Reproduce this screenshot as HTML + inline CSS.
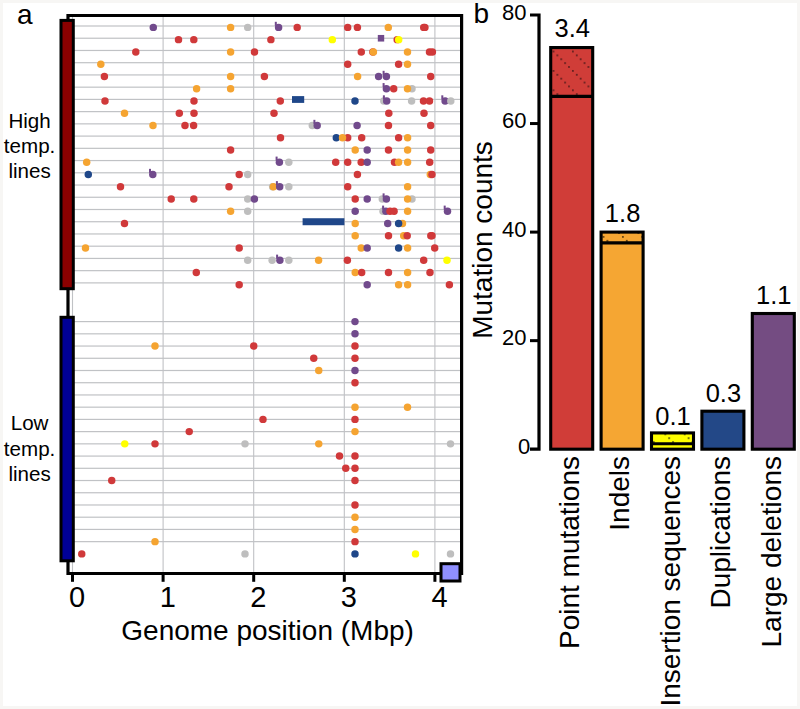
<!DOCTYPE html><html><head><meta charset="utf-8"><style>html,body{margin:0;padding:0;background:#f7f6f4;}svg{display:block;}text{font-family:"Liberation Sans",sans-serif;fill:#000;}</style></head><body>
<svg width="800" height="709" viewBox="0 0 800 709">
<defs>
<pattern id="hr" patternUnits="userSpaceOnUse" x="551.6" y="49.6" width="19.4" height="19.4"><circle cx="1.90" cy="1.90" r="0.85" fill="#3a1414"/><circle cx="5.78" cy="5.78" r="0.85" fill="#3a1414"/><circle cx="9.66" cy="9.66" r="0.85" fill="#3a1414"/><circle cx="13.54" cy="13.54" r="0.85" fill="#3a1414"/><circle cx="17.42" cy="17.42" r="0.85" fill="#3a1414"/></pattern>
<pattern id="ho" patternUnits="userSpaceOnUse" x="601.6" y="235" width="19.4" height="19.4"><circle cx="1.90" cy="1.90" r="0.85" fill="#2a1a00"/><circle cx="5.78" cy="5.78" r="0.85" fill="#2a1a00"/><circle cx="9.66" cy="9.66" r="0.85" fill="#2a1a00"/><circle cx="13.54" cy="13.54" r="0.85" fill="#2a1a00"/><circle cx="17.42" cy="17.42" r="0.85" fill="#2a1a00"/></pattern>
<pattern id="hy" patternUnits="userSpaceOnUse" x="667.3" y="436.3" width="19.4" height="19.4"><circle cx="1.90" cy="1.90" r="0.85" fill="#222"/><circle cx="5.78" cy="5.78" r="0.85" fill="#222"/><circle cx="9.66" cy="9.66" r="0.85" fill="#222"/><circle cx="13.54" cy="13.54" r="0.85" fill="#222"/><circle cx="17.42" cy="17.42" r="0.85" fill="#222"/></pattern>
</defs>
<rect x="3" y="3" width="794" height="703" fill="#fff"/>
<text x="17" y="23.7" font-size="28">a</text>
<rect x="69.5" y="25.40" width="391" height="1.2" fill="#c0c2c5"/>
<rect x="69.5" y="37.63" width="391" height="1.2" fill="#c0c2c5"/>
<rect x="69.5" y="49.87" width="391" height="1.2" fill="#c0c2c5"/>
<rect x="69.5" y="62.10" width="391" height="1.2" fill="#c0c2c5"/>
<rect x="69.5" y="74.33" width="391" height="1.2" fill="#c0c2c5"/>
<rect x="69.5" y="86.57" width="391" height="1.2" fill="#c0c2c5"/>
<rect x="69.5" y="98.80" width="391" height="1.2" fill="#c0c2c5"/>
<rect x="69.5" y="111.03" width="391" height="1.2" fill="#c0c2c5"/>
<rect x="69.5" y="123.26" width="391" height="1.2" fill="#c0c2c5"/>
<rect x="69.5" y="135.50" width="391" height="1.2" fill="#c0c2c5"/>
<rect x="69.5" y="147.73" width="391" height="1.2" fill="#c0c2c5"/>
<rect x="69.5" y="159.96" width="391" height="1.2" fill="#c0c2c5"/>
<rect x="69.5" y="172.20" width="391" height="1.2" fill="#c0c2c5"/>
<rect x="69.5" y="184.43" width="391" height="1.2" fill="#c0c2c5"/>
<rect x="69.5" y="196.66" width="391" height="1.2" fill="#c0c2c5"/>
<rect x="69.5" y="208.90" width="391" height="1.2" fill="#c0c2c5"/>
<rect x="69.5" y="221.13" width="391" height="1.2" fill="#c0c2c5"/>
<rect x="69.5" y="233.36" width="391" height="1.2" fill="#c0c2c5"/>
<rect x="69.5" y="245.59" width="391" height="1.2" fill="#c0c2c5"/>
<rect x="69.5" y="257.83" width="391" height="1.2" fill="#c0c2c5"/>
<rect x="69.5" y="270.06" width="391" height="1.2" fill="#c0c2c5"/>
<rect x="69.5" y="282.29" width="391" height="1.2" fill="#c0c2c5"/>
<rect x="69.5" y="321.00" width="391" height="1.2" fill="#c0c2c5"/>
<rect x="69.5" y="333.23" width="391" height="1.2" fill="#c0c2c5"/>
<rect x="69.5" y="345.45" width="391" height="1.2" fill="#c0c2c5"/>
<rect x="69.5" y="357.68" width="391" height="1.2" fill="#c0c2c5"/>
<rect x="69.5" y="369.90" width="391" height="1.2" fill="#c0c2c5"/>
<rect x="69.5" y="382.12" width="391" height="1.2" fill="#c0c2c5"/>
<rect x="69.5" y="394.35" width="391" height="1.2" fill="#c0c2c5"/>
<rect x="69.5" y="406.57" width="391" height="1.2" fill="#c0c2c5"/>
<rect x="69.5" y="418.80" width="391" height="1.2" fill="#c0c2c5"/>
<rect x="69.5" y="431.02" width="391" height="1.2" fill="#c0c2c5"/>
<rect x="69.5" y="443.25" width="391" height="1.2" fill="#c0c2c5"/>
<rect x="69.5" y="455.48" width="391" height="1.2" fill="#c0c2c5"/>
<rect x="69.5" y="467.70" width="391" height="1.2" fill="#c0c2c5"/>
<rect x="69.5" y="479.92" width="391" height="1.2" fill="#c0c2c5"/>
<rect x="69.5" y="492.15" width="391" height="1.2" fill="#c0c2c5"/>
<rect x="69.5" y="504.38" width="391" height="1.2" fill="#c0c2c5"/>
<rect x="69.5" y="516.60" width="391" height="1.2" fill="#c0c2c5"/>
<rect x="69.5" y="528.82" width="391" height="1.2" fill="#c0c2c5"/>
<rect x="69.5" y="541.05" width="391" height="1.2" fill="#c0c2c5"/>
<rect x="71.95" y="17" width="1.1" height="555" fill="#c0c2c5"/>
<rect x="162.55" y="17" width="1.1" height="555" fill="#c0c2c5"/>
<rect x="253.15" y="17" width="1.1" height="555" fill="#c0c2c5"/>
<rect x="343.75" y="17" width="1.1" height="555" fill="#c0c2c5"/>
<rect x="434.35" y="17" width="1.1" height="555" fill="#c0c2c5"/>
<circle cx="153.30" cy="27.40" r="3.72" fill="#714a8c"/>
<circle cx="230.60" cy="27.40" r="3.72" fill="#f5a431"/>
<circle cx="247.70" cy="27.40" r="3.72" fill="#bebebe"/>
<rect x="274.80" y="21.80" width="2.0" height="4.0" fill="#714a8c"/>
<circle cx="278.60" cy="27.40" r="3.72" fill="#714a8c"/>
<circle cx="297.20" cy="27.40" r="3.72" fill="#d0393a"/>
<circle cx="347.70" cy="27.40" r="3.72" fill="#d0393a"/>
<circle cx="357.40" cy="27.40" r="3.72" fill="#d0393a"/>
<circle cx="388.30" cy="27.40" r="3.72" fill="#f5a431"/>
<circle cx="423.70" cy="27.40" r="3.72" fill="#d0393a"/>
<circle cx="424.90" cy="27.40" r="3.72" fill="#d0393a"/>
<circle cx="178.50" cy="39.65" r="3.72" fill="#d0393a"/>
<circle cx="193.80" cy="39.65" r="3.72" fill="#d0393a"/>
<circle cx="270.90" cy="39.65" r="3.72" fill="#d0393a"/>
<circle cx="332.30" cy="39.65" r="3.72" fill="#ffff00"/>
<rect x="377.80" y="34.95" width="6.4" height="6.6" fill="#714a8c"/>
<circle cx="397.20" cy="39.65" r="3.72" fill="#d0393a"/>
<circle cx="398.70" cy="39.65" r="3.72" fill="#ffff00"/>
<circle cx="135.80" cy="51.91" r="3.72" fill="#d0393a"/>
<circle cx="230.60" cy="51.91" r="3.72" fill="#f5a431"/>
<circle cx="254.50" cy="51.91" r="3.72" fill="#d0393a"/>
<circle cx="361.30" cy="51.91" r="3.72" fill="#d0393a"/>
<circle cx="372.90" cy="51.91" r="3.72" fill="#d0393a"/>
<circle cx="373.40" cy="51.91" r="3.72" fill="#f5a431"/>
<circle cx="407.50" cy="51.91" r="3.72" fill="#f5a431"/>
<circle cx="429.50" cy="51.91" r="3.72" fill="#d0393a"/>
<circle cx="432.40" cy="51.91" r="3.72" fill="#d0393a"/>
<circle cx="100.80" cy="64.16" r="3.72" fill="#f5a431"/>
<circle cx="347.70" cy="64.16" r="3.72" fill="#d0393a"/>
<circle cx="398.60" cy="64.16" r="3.72" fill="#d0393a"/>
<circle cx="407.50" cy="64.16" r="3.72" fill="#f5a431"/>
<circle cx="104.40" cy="76.42" r="3.72" fill="#d0393a"/>
<circle cx="230.60" cy="76.42" r="3.72" fill="#f5a431"/>
<circle cx="264.40" cy="76.42" r="3.72" fill="#d0393a"/>
<circle cx="357.60" cy="76.42" r="3.72" fill="#f5a431"/>
<circle cx="378.60" cy="76.42" r="3.72" fill="#714a8c"/>
<rect x="382.60" y="70.82" width="2.0" height="4.0" fill="#714a8c"/>
<circle cx="386.40" cy="76.42" r="3.72" fill="#714a8c"/>
<circle cx="430.70" cy="76.42" r="3.72" fill="#d0393a"/>
<circle cx="196.60" cy="88.67" r="3.72" fill="#f5a431"/>
<circle cx="230.60" cy="88.67" r="3.72" fill="#f5a431"/>
<rect x="382.60" y="83.07" width="2.0" height="4.0" fill="#714a8c"/>
<circle cx="386.40" cy="88.67" r="3.72" fill="#714a8c"/>
<circle cx="393.70" cy="88.67" r="3.72" fill="#d0393a"/>
<circle cx="412.00" cy="88.67" r="3.72" fill="#bebebe"/>
<circle cx="407.50" cy="88.67" r="3.72" fill="#f5a431"/>
<circle cx="105.00" cy="100.92" r="3.72" fill="#d0393a"/>
<circle cx="194.00" cy="100.92" r="3.72" fill="#d0393a"/>
<circle cx="280.30" cy="100.92" r="3.72" fill="#d0393a"/>
<circle cx="355.00" cy="100.92" r="3.72" fill="#1f4789"/>
<circle cx="383.80" cy="100.92" r="3.72" fill="#bebebe"/>
<rect x="382.90" y="95.32" width="2.0" height="4.0" fill="#714a8c"/>
<circle cx="386.70" cy="100.92" r="3.72" fill="#714a8c"/>
<circle cx="411.60" cy="100.92" r="3.72" fill="#bebebe"/>
<circle cx="423.50" cy="100.92" r="3.72" fill="#d0393a"/>
<circle cx="429.50" cy="100.92" r="3.72" fill="#d0393a"/>
<rect x="441.30" y="95.32" width="2.0" height="4.0" fill="#714a8c"/>
<circle cx="445.10" cy="100.92" r="3.72" fill="#714a8c"/>
<circle cx="450.80" cy="100.92" r="3.72" fill="#bebebe"/>
<circle cx="124.50" cy="113.18" r="3.72" fill="#f5a431"/>
<circle cx="179.30" cy="113.18" r="3.72" fill="#d0393a"/>
<circle cx="194.00" cy="113.18" r="3.72" fill="#d0393a"/>
<circle cx="274.00" cy="113.18" r="3.72" fill="#d0393a"/>
<circle cx="388.80" cy="113.18" r="3.72" fill="#d0393a"/>
<circle cx="424.00" cy="113.18" r="3.72" fill="#d0393a"/>
<circle cx="153.00" cy="125.43" r="3.72" fill="#f5a431"/>
<circle cx="185.00" cy="125.43" r="3.72" fill="#d0393a"/>
<circle cx="193.60" cy="125.43" r="3.72" fill="#d0393a"/>
<circle cx="312.30" cy="125.43" r="3.72" fill="#bebebe"/>
<rect x="313.40" y="119.83" width="2.0" height="4.0" fill="#714a8c"/>
<circle cx="317.20" cy="125.43" r="3.72" fill="#714a8c"/>
<circle cx="357.10" cy="125.43" r="3.72" fill="#714a8c"/>
<circle cx="388.50" cy="125.43" r="3.72" fill="#d0393a"/>
<circle cx="430.70" cy="125.43" r="3.72" fill="#d0393a"/>
<circle cx="280.50" cy="137.69" r="3.72" fill="#d0393a"/>
<circle cx="336.30" cy="137.69" r="3.72" fill="#1f4789"/>
<circle cx="347.70" cy="137.69" r="3.72" fill="#d0393a"/>
<circle cx="342.50" cy="137.69" r="3.72" fill="#f5a431"/>
<circle cx="361.70" cy="137.69" r="3.72" fill="#d0393a"/>
<circle cx="398.60" cy="137.69" r="3.72" fill="#d0393a"/>
<circle cx="407.60" cy="137.69" r="3.72" fill="#f5a431"/>
<circle cx="230.60" cy="149.94" r="3.72" fill="#d0393a"/>
<circle cx="355.20" cy="149.94" r="3.72" fill="#f5a431"/>
<circle cx="367.20" cy="149.94" r="3.72" fill="#714a8c"/>
<circle cx="388.50" cy="149.94" r="3.72" fill="#d0393a"/>
<circle cx="407.60" cy="149.94" r="3.72" fill="#f5a431"/>
<circle cx="430.70" cy="149.94" r="3.72" fill="#d0393a"/>
<circle cx="86.70" cy="162.19" r="3.72" fill="#f5a431"/>
<rect x="275.60" y="156.59" width="2.0" height="4.0" fill="#714a8c"/>
<circle cx="279.40" cy="162.19" r="3.72" fill="#714a8c"/>
<circle cx="288.80" cy="162.19" r="3.72" fill="#bebebe"/>
<circle cx="335.70" cy="162.19" r="3.72" fill="#d0393a"/>
<circle cx="347.70" cy="162.19" r="3.72" fill="#d0393a"/>
<circle cx="361.20" cy="162.19" r="3.72" fill="#d0393a"/>
<circle cx="367.20" cy="162.19" r="3.72" fill="#714a8c"/>
<circle cx="394.50" cy="162.19" r="3.72" fill="#d0393a"/>
<circle cx="398.60" cy="162.19" r="3.72" fill="#f5a431"/>
<circle cx="407.60" cy="162.19" r="3.72" fill="#f5a431"/>
<circle cx="429.70" cy="162.19" r="3.72" fill="#d0393a"/>
<circle cx="88.30" cy="174.45" r="3.72" fill="#1f4789"/>
<rect x="149.00" y="168.85" width="2.0" height="4.0" fill="#714a8c"/>
<circle cx="152.80" cy="174.45" r="3.72" fill="#714a8c"/>
<circle cx="239.20" cy="174.45" r="3.72" fill="#d0393a"/>
<circle cx="247.70" cy="174.45" r="3.72" fill="#bebebe"/>
<circle cx="357.40" cy="174.45" r="3.72" fill="#d0393a"/>
<circle cx="430.30" cy="174.45" r="3.72" fill="#f5a431"/>
<circle cx="432.00" cy="174.45" r="3.72" fill="#d0393a"/>
<circle cx="120.50" cy="186.70" r="3.72" fill="#d0393a"/>
<circle cx="229.00" cy="186.70" r="3.72" fill="#d0393a"/>
<circle cx="272.60" cy="186.70" r="3.72" fill="#bebebe"/>
<circle cx="273.40" cy="186.70" r="3.72" fill="#f5a431"/>
<rect x="275.90" y="181.10" width="2.0" height="4.0" fill="#714a8c"/>
<circle cx="279.70" cy="186.70" r="3.72" fill="#714a8c"/>
<circle cx="288.80" cy="186.70" r="3.72" fill="#bebebe"/>
<circle cx="347.70" cy="186.70" r="3.72" fill="#d0393a"/>
<circle cx="407.60" cy="186.70" r="3.72" fill="#f5a431"/>
<circle cx="171.20" cy="198.96" r="3.72" fill="#d0393a"/>
<circle cx="193.80" cy="198.96" r="3.72" fill="#d0393a"/>
<circle cx="247.70" cy="198.96" r="3.72" fill="#bebebe"/>
<circle cx="254.40" cy="198.96" r="3.72" fill="#714a8c"/>
<circle cx="355.20" cy="198.96" r="3.72" fill="#d0393a"/>
<circle cx="367.20" cy="198.96" r="3.72" fill="#714a8c"/>
<circle cx="382.30" cy="198.96" r="3.72" fill="#bebebe"/>
<rect x="382.60" y="193.36" width="2.0" height="4.0" fill="#714a8c"/>
<circle cx="386.40" cy="198.96" r="3.72" fill="#714a8c"/>
<circle cx="412.00" cy="198.96" r="3.72" fill="#bebebe"/>
<circle cx="407.60" cy="198.96" r="3.72" fill="#f5a431"/>
<circle cx="230.60" cy="211.21" r="3.72" fill="#f5a431"/>
<circle cx="247.70" cy="211.21" r="3.72" fill="#bebebe"/>
<circle cx="355.20" cy="211.21" r="3.72" fill="#714a8c"/>
<circle cx="383.00" cy="211.21" r="3.72" fill="#bebebe"/>
<rect x="382.10" y="205.61" width="2.0" height="4.0" fill="#714a8c"/>
<circle cx="385.90" cy="211.21" r="3.72" fill="#714a8c"/>
<circle cx="390.00" cy="211.21" r="3.72" fill="#d0393a"/>
<circle cx="394.10" cy="211.21" r="3.72" fill="#d0393a"/>
<circle cx="407.60" cy="211.21" r="3.72" fill="#f5a431"/>
<rect x="443.70" y="205.61" width="2.0" height="4.0" fill="#714a8c"/>
<circle cx="447.50" cy="211.21" r="3.72" fill="#714a8c"/>
<circle cx="124.50" cy="223.46" r="3.72" fill="#d0393a"/>
<circle cx="355.20" cy="223.46" r="3.72" fill="#f5a431"/>
<circle cx="387.70" cy="223.46" r="3.72" fill="#714a8c"/>
<circle cx="402.50" cy="223.46" r="3.72" fill="#f5a431"/>
<circle cx="398.60" cy="223.46" r="3.72" fill="#1f4789"/>
<circle cx="355.20" cy="235.72" r="3.72" fill="#f5a431"/>
<circle cx="388.50" cy="235.72" r="3.72" fill="#d0393a"/>
<circle cx="403.70" cy="235.72" r="3.72" fill="#f5a431"/>
<circle cx="407.20" cy="235.72" r="3.72" fill="#d0393a"/>
<circle cx="430.80" cy="235.72" r="3.72" fill="#d0393a"/>
<circle cx="432.00" cy="235.72" r="3.72" fill="#d0393a"/>
<circle cx="85.50" cy="247.97" r="3.72" fill="#f5a431"/>
<circle cx="239.20" cy="247.97" r="3.72" fill="#d0393a"/>
<circle cx="361.20" cy="247.97" r="3.72" fill="#f5a431"/>
<circle cx="367.20" cy="247.97" r="3.72" fill="#714a8c"/>
<circle cx="398.60" cy="247.97" r="3.72" fill="#1f4789"/>
<circle cx="407.60" cy="247.97" r="3.72" fill="#f5a431"/>
<circle cx="434.70" cy="247.97" r="3.72" fill="#d0393a"/>
<circle cx="247.70" cy="260.23" r="3.72" fill="#bebebe"/>
<circle cx="272.10" cy="260.23" r="3.72" fill="#bebebe"/>
<rect x="276.10" y="254.63" width="2.0" height="4.0" fill="#714a8c"/>
<circle cx="279.90" cy="260.23" r="3.72" fill="#714a8c"/>
<circle cx="288.80" cy="260.23" r="3.72" fill="#bebebe"/>
<circle cx="318.60" cy="260.23" r="3.72" fill="#f5a431"/>
<circle cx="347.40" cy="260.23" r="3.72" fill="#d0393a"/>
<circle cx="423.70" cy="260.23" r="3.72" fill="#d0393a"/>
<circle cx="447.00" cy="260.23" r="3.72" fill="#ffff00"/>
<circle cx="196.30" cy="272.48" r="3.72" fill="#d0393a"/>
<circle cx="355.20" cy="272.48" r="3.72" fill="#f5a431"/>
<circle cx="361.70" cy="272.48" r="3.72" fill="#d0393a"/>
<circle cx="388.50" cy="272.48" r="3.72" fill="#d0393a"/>
<circle cx="407.60" cy="272.48" r="3.72" fill="#f5a431"/>
<circle cx="430.00" cy="272.48" r="3.72" fill="#d0393a"/>
<circle cx="239.20" cy="284.73" r="3.72" fill="#d0393a"/>
<circle cx="367.20" cy="284.73" r="3.72" fill="#714a8c"/>
<circle cx="398.60" cy="284.73" r="3.72" fill="#f5a431"/>
<circle cx="407.60" cy="284.73" r="3.72" fill="#f5a431"/>
<circle cx="449.40" cy="284.73" r="3.72" fill="#d0393a"/>
<circle cx="355.00" cy="321.60" r="3.72" fill="#714a8c"/>
<circle cx="355.00" cy="333.83" r="3.72" fill="#714a8c"/>
<circle cx="155.00" cy="346.05" r="3.72" fill="#f5a431"/>
<circle cx="253.75" cy="346.05" r="3.72" fill="#d0393a"/>
<circle cx="355.00" cy="346.05" r="3.72" fill="#d0393a"/>
<circle cx="313.75" cy="358.28" r="3.72" fill="#d0393a"/>
<circle cx="355.00" cy="358.28" r="3.72" fill="#d0393a"/>
<circle cx="318.75" cy="370.50" r="3.72" fill="#f5a431"/>
<circle cx="355.00" cy="370.50" r="3.72" fill="#714a8c"/>
<circle cx="355.00" cy="382.73" r="3.72" fill="#d0393a"/>
<circle cx="355.00" cy="407.18" r="3.72" fill="#f5a431"/>
<circle cx="407.50" cy="407.18" r="3.72" fill="#f5a431"/>
<circle cx="263.00" cy="419.40" r="3.72" fill="#d0393a"/>
<circle cx="355.00" cy="419.40" r="3.72" fill="#d0393a"/>
<circle cx="189.25" cy="431.62" r="3.72" fill="#d0393a"/>
<circle cx="355.00" cy="431.62" r="3.72" fill="#f5a431"/>
<circle cx="124.75" cy="443.85" r="3.72" fill="#ffff00"/>
<circle cx="155.00" cy="443.85" r="3.72" fill="#d0393a"/>
<circle cx="245.00" cy="443.85" r="3.72" fill="#bebebe"/>
<circle cx="318.75" cy="443.85" r="3.72" fill="#f5a431"/>
<circle cx="450.50" cy="443.85" r="3.72" fill="#bebebe"/>
<circle cx="339.50" cy="456.08" r="3.72" fill="#d0393a"/>
<circle cx="355.00" cy="456.08" r="3.72" fill="#d0393a"/>
<circle cx="345.75" cy="468.30" r="3.72" fill="#d0393a"/>
<circle cx="355.00" cy="468.30" r="3.72" fill="#d0393a"/>
<circle cx="111.75" cy="480.52" r="3.72" fill="#d0393a"/>
<circle cx="355.00" cy="480.52" r="3.72" fill="#d0393a"/>
<circle cx="355.00" cy="504.98" r="3.72" fill="#d0393a"/>
<circle cx="355.00" cy="517.20" r="3.72" fill="#f5a431"/>
<circle cx="355.00" cy="529.42" r="3.72" fill="#f5a431"/>
<circle cx="155.00" cy="541.65" r="3.72" fill="#f5a431"/>
<circle cx="355.00" cy="541.65" r="3.72" fill="#d0393a"/>
<circle cx="81.75" cy="553.88" r="3.72" fill="#d0393a"/>
<circle cx="245.00" cy="553.88" r="3.72" fill="#bebebe"/>
<circle cx="355.00" cy="553.88" r="3.72" fill="#1f4789"/>
<circle cx="415.50" cy="553.88" r="3.72" fill="#ffff00"/>
<circle cx="450.50" cy="553.88" r="3.72" fill="#bebebe"/>
<rect x="292" y="96.10" width="12.2" height="6.8" fill="#1f4789"/>
<rect x="302.6" y="218.23" width="41.8" height="7" fill="#1f4789"/>
<path d="M68 573.5 V15.5 H461.6 V573.5 Z" fill="none" stroke="#000" stroke-width="3.2"/>
<rect x="61" y="20.4" width="12.3" height="268.3" fill="#8b0000" stroke="#000" stroke-width="3"/>
<rect x="61" y="317.3" width="12.3" height="243.5" fill="#000096" stroke="#000" stroke-width="3"/>
<rect x="71.00" y="573" width="3" height="8.8" fill="#000"/>
<rect x="161.60" y="573" width="3" height="8.8" fill="#000"/>
<rect x="252.20" y="573" width="3" height="8.8" fill="#000"/>
<rect x="342.80" y="573" width="3" height="8.8" fill="#000"/>
<rect x="433.40" y="573" width="3" height="8.8" fill="#000"/>
<rect x="441" y="563.7" width="19" height="17.3" fill="#8f8fff" stroke="#000" stroke-width="3"/>
<text x="77.10" y="607.3" font-size="29" text-anchor="middle">0</text>
<text x="167.70" y="607.3" font-size="29" text-anchor="middle">1</text>
<text x="258.30" y="607.3" font-size="29" text-anchor="middle">2</text>
<text x="348.90" y="607.3" font-size="29" text-anchor="middle">3</text>
<text x="439.50" y="607.3" font-size="29" text-anchor="middle">4</text>
<text x="267.6" y="640.2" font-size="28" text-anchor="middle">Genome position (Mbp)</text>
<text x="29.6" y="127.5" font-size="20.6" text-anchor="middle">High</text>
<text x="29.6" y="152.9" font-size="20.6" text-anchor="middle">temp.</text>
<text x="29.6" y="178.3" font-size="20.6" text-anchor="middle">lines</text>
<text x="29.6" y="430.4" font-size="20.6" text-anchor="middle">Low</text>
<text x="29.6" y="456" font-size="20.6" text-anchor="middle">temp.</text>
<text x="29.6" y="480.9" font-size="20.6" text-anchor="middle">lines</text>
<text x="473.5" y="23.2" font-size="28">b</text>
<path d="M530 15.00 H539 V449.20 H530" fill="none" stroke="#000" stroke-width="3.2"/>
<rect x="530" y="339.15" width="9" height="3" fill="#000"/>
<rect x="530" y="230.60" width="9" height="3" fill="#000"/>
<rect x="530" y="122.05" width="9" height="3" fill="#000"/>
<text x="526.6" y="19.60" font-size="22" text-anchor="end">80</text>
<text x="526.6" y="128.15" font-size="22" text-anchor="end">60</text>
<text x="526.6" y="236.70" font-size="22" text-anchor="end">40</text>
<text x="526.6" y="345.25" font-size="22" text-anchor="end">20</text>
<text x="530.3" y="453.60" font-size="22" text-anchor="end">0</text>
<text transform="translate(492.4 240) rotate(-90)" font-size="28" text-anchor="middle">Mutation counts</text>
<rect x="550.70" y="47.56" width="42" height="401.63" fill="#d03d38"/>
<rect x="550.70" y="47.56" width="42" height="48.85" fill="url(#hr)"/>
<line x1="550.70" x2="592.70" y1="96.41" y2="96.41" stroke="#000" stroke-width="3.2"/>
<rect x="550.70" y="47.56" width="42" height="401.63" fill="none" stroke="#000" stroke-width="3.1"/>
<text x="572.20" y="36.9" font-size="25.5" text-anchor="middle">3.4</text>
<text transform="translate(579.00 456) rotate(-90)" font-size="28" text-anchor="end">Point mutations</text>
<rect x="601.10" y="232.10" width="42" height="217.10" fill="#f5a633"/>
<rect x="601.10" y="232.10" width="42" height="10.86" fill="url(#ho)"/>
<line x1="601.10" x2="643.10" y1="242.95" y2="242.95" stroke="#000" stroke-width="3.2"/>
<rect x="601.10" y="232.10" width="42" height="217.10" fill="none" stroke="#000" stroke-width="3.1"/>
<text x="622.60" y="221.8" font-size="25.5" text-anchor="middle">1.8</text>
<text transform="translate(629.40 456) rotate(-90)" font-size="28" text-anchor="end">Indels</text>
<rect x="651.50" y="432.92" width="42" height="16.28" fill="#ffff00"/>
<rect x="651.50" y="432.92" width="42" height="10.85" fill="url(#hy)"/>
<line x1="651.50" x2="693.50" y1="443.77" y2="443.77" stroke="#000" stroke-width="3.2"/>
<rect x="651.50" y="432.92" width="42" height="16.28" fill="none" stroke="#000" stroke-width="3.1"/>
<text x="673.00" y="425.0" font-size="25.5" text-anchor="middle">0.1</text>
<text transform="translate(679.80 456) rotate(-90)" font-size="28" text-anchor="end">Insertion sequences</text>
<rect x="701.90" y="411.21" width="42" height="37.99" fill="#234887"/>
<rect x="701.90" y="411.21" width="42" height="37.99" fill="none" stroke="#000" stroke-width="3.1"/>
<text x="723.40" y="402.2" font-size="25.5" text-anchor="middle">0.3</text>
<text transform="translate(730.20 456) rotate(-90)" font-size="28" text-anchor="end">Duplications</text>
<rect x="752.30" y="313.51" width="42" height="135.69" fill="#744c82"/>
<rect x="752.30" y="313.51" width="42" height="135.69" fill="none" stroke="#000" stroke-width="3.1"/>
<text x="773.80" y="303.7" font-size="25.5" text-anchor="middle">1.1</text>
<text transform="translate(780.60 456) rotate(-90)" font-size="28" text-anchor="end">Large deletions</text>
</svg></body></html>
